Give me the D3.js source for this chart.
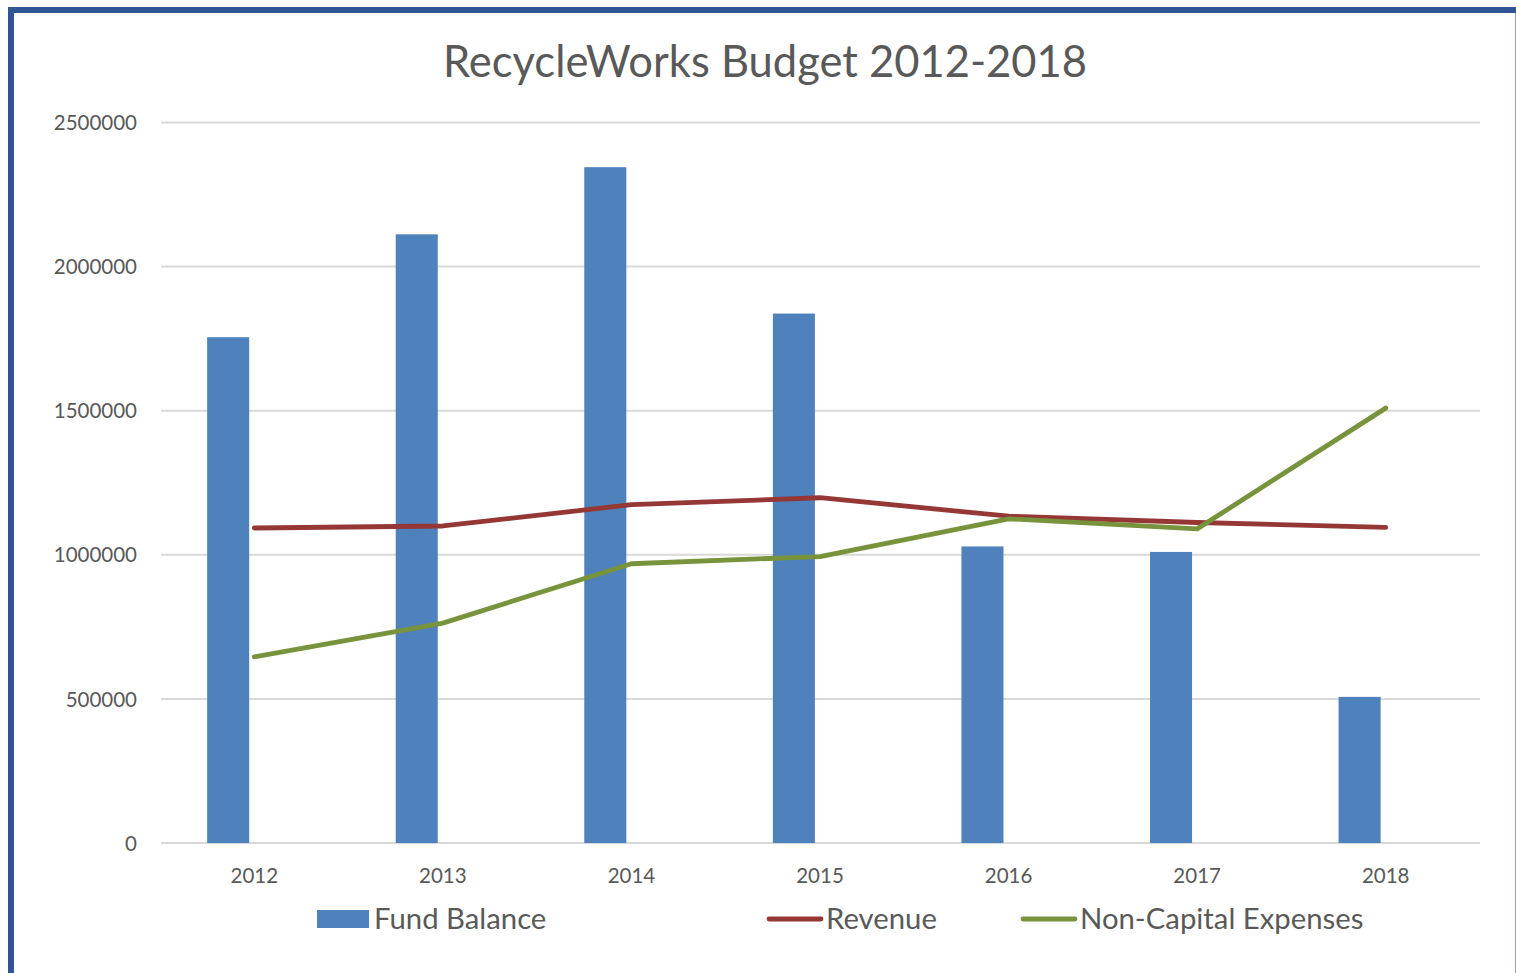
<!DOCTYPE html>
<html>
<head>
<meta charset="utf-8">
<script src="https://cdn.jsdelivr.net/npm/d3@7"></script>
<style>
  html, body { margin: 0; padding: 0; background: #fff; }
  svg { display: block; }
  text { font-family: Lato, "Open Sans", sans-serif; fill: #595959; }
</style>
</head>
<body>
<svg id="chart" width="1516" height="973"></svg>
<script>
const title = "RecycleWorks Budget 2012-2018";
const categories = ["2012", "2013", "2014", "2015", "2016", "2017", "2018"];
const fundBalance = [1755000, 2112000, 2345000, 1837000, 1029000, 1010000, 507000];
const revenue = [1093000, 1100000, 1174000, 1198000, 1134000, 1112000, 1095000];
const expenses = [646000, 763000, 969000, 994000, 1125000, 1090000, 1509000];
const yTicks = [0, 500000, 1000000, 1500000, 2000000, 2500000];
const seriesNames = ["Fund Balance", "Revenue", "Non-Capital Expenses"];
const colors = { bar: "#4F81BD", revenue: "#953735", expenses: "#77933C" };

const svg = d3.select("#chart");

// outer frame
svg.append("path")
  .attr("d", "M11,973 L11,10 L1520,10")
  .attr("fill", "none").attr("stroke", "#2F5597").attr("stroke-width", 6);
svg.append("line")
  .attr("x1", 1515.5).attr("x2", 1515.5).attr("y1", 13).attr("y2", 973)
  .attr("stroke", "#8FA5C9").attr("stroke-width", 1);

const x = d3.scaleBand().domain(categories).range([160, 1480]).padding(0);
const y = d3.scaleLinear().domain([0, 2500000]).range([843, 122.5]);

// gridlines
svg.append("g").selectAll("line").data(yTicks).join("line")
  .attr("x1", 161).attr("x2", 1480)
  .attr("y1", d => y(d)).attr("y2", d => y(d))
  .attr("stroke", "#D9D9D9").attr("stroke-width", 2);

// y axis labels
const yAxis = d3.axisLeft(y).tickValues(yTicks).tickFormat(d3.format("d")).tickSize(0).tickPadding(0);
const gy = svg.append("g").attr("transform", "translate(137,0)").call(yAxis);
gy.select(".domain").remove();
gy.selectAll("text").style("font-size", "20.5px").style("font-family", "Lato, sans-serif").attr("fill", "#595959").attr("dy", "0.35em");

// x axis labels
const xAxis = d3.axisBottom(x).tickSize(0).tickPadding(0);
const gx = svg.append("g").attr("transform", "translate(0,868)").call(xAxis);
gx.select(".domain").remove();
gx.selectAll("text").style("font-size", "20.5px").style("font-family", "Lato, sans-serif").attr("fill", "#595959").attr("dy", "0.71em");

// bars
const bw = x.bandwidth();
const barW = bw * 0.223;
const barShift = bw * 0.25;
svg.append("g").selectAll("rect").data(categories).join("rect")
  .attr("x", (d) => x(d) + bw / 2 - barShift)
  .attr("width", barW)
  .attr("y", (d, i) => y(fundBalance[i]))
  .attr("height", (d, i) => y(0) - y(fundBalance[i]))
  .attr("fill", colors.bar);

// lines
const line = d3.line()
  .x((d, i) => x(categories[i]) + bw / 2)
  .y(d => y(d));
svg.append("path").datum(revenue).attr("d", line)
  .attr("fill", "none").attr("stroke", colors.revenue).attr("stroke-width", 4.8)
  .attr("stroke-linecap", "round").attr("stroke-linejoin", "round");
svg.append("path").datum(expenses).attr("d", line)
  .attr("fill", "none").attr("stroke", colors.expenses).attr("stroke-width", 4.8)
  .attr("stroke-linecap", "round").attr("stroke-linejoin", "round");

// title
svg.append("text").attr("x", 765).attr("y", 77).attr("text-anchor", "middle")
  .style("font-size", "43.5px").text(title);

// legend
const legY = 919;
const lg = svg.append("g");
lg.append("rect").attr("x", 317).attr("y", 910).attr("width", 52).attr("height", 18).attr("fill", colors.bar);
lg.append("text").attr("x", 374).attr("y", legY).attr("dy", "0.35em").style("font-size", "29.3px").text(seriesNames[0]);
lg.append("line").attr("x1", 769).attr("x2", 821).attr("y1", legY).attr("y2", legY)
  .attr("stroke", colors.revenue).attr("stroke-width", 4.8).attr("stroke-linecap", "round");
lg.append("text").attr("x", 826).attr("y", legY).attr("dy", "0.35em").style("font-size", "29.3px").text(seriesNames[1]);
lg.append("line").attr("x1", 1023).attr("x2", 1075).attr("y1", legY).attr("y2", legY)
  .attr("stroke", colors.expenses).attr("stroke-width", 4.8).attr("stroke-linecap", "round");
lg.append("text").attr("x", 1080).attr("y", legY).attr("dy", "0.35em").style("font-size", "29.3px").text(seriesNames[2]);
</script>
</body>
</html>
